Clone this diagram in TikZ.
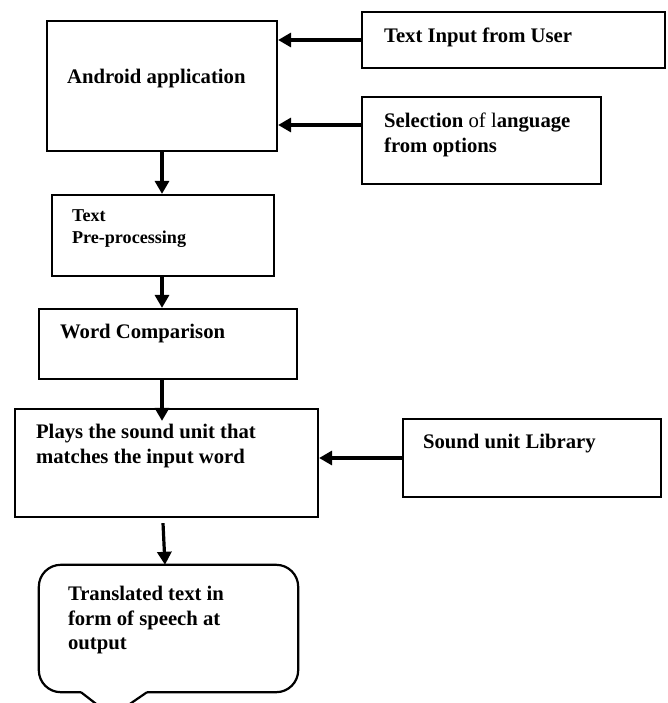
\documentclass[tikz,border=0pt]{standalone}
\usepackage{fontspec}
\setmainfont{Liberation Serif}
\usetikzlibrary{arrows.meta,calc}

\begin{document}
\begin{tikzpicture}[
  x=1pt,y=-1pt,
  font=\fontsize{20.7}{24.5}\selectfont\bfseries,
  >={Triangle[length=13pt,width=14pt]},
  box/.style={draw,line width=2.2pt,inner sep=0pt},
  txt/.style={anchor=base west,align=left,inner sep=0pt},
  smalltxt/.style={txt,font=\fontsize{18.1}{22}\selectfont\bfseries},
  flow/.style={->,line width=3.2pt},
]
\useasboundingbox (0,0) rectangle (667,703);

% left column: main flow
\node[box,minimum width=230pt,minimum height=130pt] (android) at (162,86) {};
\node[box,minimum width=222pt,minimum height=81pt]  (prep)    at (163,235.5) {};
\node[box,minimum width=258pt,minimum height=70pt]  (word)    at (168,344) {};
\node[box,minimum width=303pt,minimum height=108pt] (plays)   at (166.5,463) {};
\node[minimum width=259pt,minimum height=127pt,inner sep=0pt] (outp) at (168.5,628.5) {};

% right column: inputs
\node[box,minimum width=303pt,minimum height=56pt] (inp) at (513.5,40) {};
\node[box,minimum width=239pt,minimum height=87pt] (sel) at (481.5,140.5) {};
\node[box,minimum width=258pt,minimum height=78pt] (snd) at (532,458) {};

% callout outline, pointer drawn on its own
\draw[line width=2.2pt,rounded corners=22pt] ($(outp.south)+(-87.5,0)$) -- (outp.south west) -- (outp.north west)
  -- (outp.north east) -- (outp.south east) -- ($(outp.south)+(-21.5,0)$);
\draw[line width=2.2pt] ($(outp.south)+(-87.5,0)$) -- ($(outp.south)+(-56.5,24)$) -- ($(outp.south)+(-21.5,0)$);

% texts (base = last line)
\node[txt] (androidtxt) at ($(android.north west)+(21,64)$) {Android application};
\node[smalltxt] (preptxt) at ($(prep.north west)+(21,50)$) {Text\\Pre-processing};
\node[txt] (wordtxt) at ($(word.north west)+(22,31)$) {Word Comparison};
\node[txt] (playstxt) at ($(plays.north west)+(22,55.5)$) {Plays the sound unit that\\matches the input word};
\node[txt] (outtxt) at ($(outp.north west)+(29,85)$) {Translated text in\\form of speech at\\output};
\node[txt] (inptxt) at ($(inp.north west)+(23,32)$) {Text Input from User};
\node[txt] (seltxt) at ($(sel.north west)+(23,56.5)$) {Selection \textmd{of l}anguage\\from options};
\node[txt] (sndtxt) at ($(snd.north west)+(21,31)$) {Sound unit Library};

% edges
\coordinate (selport) at ([yshift=15.5pt]sel.west);
\draw[flow] (inp.west) -- (inp.west -| android.east);
\draw[flow] (selport) -- (selport -| android.east);
\draw[flow] (android.south) -- (android.south |- prep.north);
\draw[flow] (prep.south -| android.south) -- (android.south |- word.north);
\draw[flow] (word.south -| android.south) -- ($(android.south |- plays.north)+(0,13)$);
\draw[flow] (snd.west) -- (snd.west -| plays.east);
\draw[flow] ($(plays.south -| android.south)+(1,5)$) -- ($(outp.north -| android.south)+(3,0)$);

\end{tikzpicture}
\end{document}
